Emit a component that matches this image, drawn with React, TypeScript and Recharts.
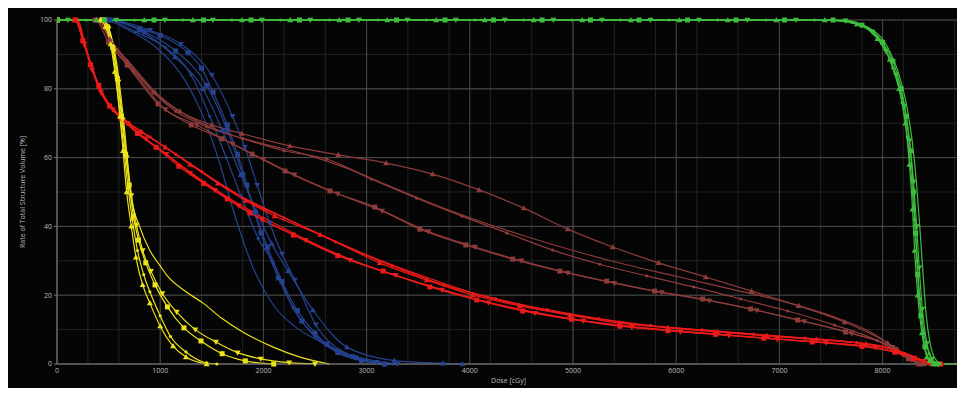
import React from "react";
import { LineChart, Line, XAxis, YAxis, CartesianGrid, Label } from "recharts";

type Pt = { x: number; y: number };
const pts = (a: number[][]): Pt[] => a.map(([x, y]) => ({ x, y }));

// axis ticks
const doseTicks = [0, 1000, 2000, 3000, 4000, 5000, 6000, 7000, 8000];
const volumeTicks = [0, 20, 40, 60, 80, 100];

// green (PTV)
const green1 = [[0,100],[460,100],[940,100],[1420,100],[1880,100],[2350,100],[2820,100],[3290,100],[3760,100],[4230,100],[4700,100],[5170,100],[5640,100],[6110,100],[6580,100],[7050,100],[7520,100],[7800,98.5],[8000,93.5],[8100,88],[8180,80],[8230,72],[8270,62],[8300,50],[8320,38],[8340,26],[8370,14],[8410,5],[8460,1],[8520,0],[8750,0]];
const green2 = [[0,100],[105,100],[575,100],[1046,100],[1511,100],[1985,100],[2455,100],[2925,100],[3395,100],[3865,100],[4340,100],[4810,100],[5280,100],[5750,100],[6220,100],[6690,100],[7160,100],[7640,99.8],[7900,96.5],[8030,91],[8130,84],[8210,75],[8260,65],[8300,53],[8330,40],[8355,28],[8385,16],[8430,6],[8480,1.5],[8540,0],[8750,0]];
const green3 = [[0,100],[380,100],[845,100],[1317,100],[1792,100],[2260,100],[2735,100],[3200,100],[3675,100],[4145,100],[4620,100],[5090,100],[5560,100],[6030,100],[6500,100],[6970,100],[7440,100],[7750,98.8],[7950,94.5],[8070,88.5],[8160,80],[8220,70],[8260,58],[8290,45],[8310,33],[8340,20],[8380,9],[8430,2],[8490,0],[8750,0]];
const green4 = [[0,100],[280,100],[750,100],[1220,100],[1695,100],[2165,100],[2640,100],[3110,100],[3580,100],[4050,100],[4520,100],[4990,100],[5460,100],[5930,100],[6400,100],[6870,100],[7340,100],[7700,99.3],[7980,94],[8100,86],[8190,76],[8240,66],[8280,54],[8310,42],[8335,30],[8360,19],[8400,9],[8450,3],[8500,0.5],[8560,0],[8750,0]];
const green5 = [[0,100],[7600,100],[7850,98],[8050,92],[8160,84],[8240,74],[8290,64],[8330,52],[8360,40],[8390,27],[8420,15],[8460,6],[8510,1.5],[8580,0],[8750,0]];

// yellow
const yellow1 = [[0,100],[420,100],[470,98],[520,93],[560,85],[610,72],[640,62],[675,50],[720,40],[765,31],[830,23],[900,17.7],[1000,11],[1125,5.2],[1250,2],[1450,0]];
const yellow2 = [[0,100],[430,100],[480,98],[530,92],[570,84],[610,73],[650,62],[690,51],[730,42],[780,33],[840,26],[900,21],[1000,14],[1100,8],[1250,3.5],[1450,0.3],[1550,0]];
const yellow3 = [[0,100],[440,100],[490,98],[540,92],[585,83],[625,72],[665,61],[700,52],[740,43],[790,36],[860,29.4],[950,23],[1070,16.6],[1230,10.5],[1395,6.7],[1600,3],[1825,0.9],[2100,0]];
const yellow4 = [[0,100],[450,100],[500,97.5],[550,91],[595,82],[635,71],[675,60],[720,49],[770,40.4],[830,33],[910,27],[1020,20.5],[1160,15.1],[1340,10],[1540,6.4],[1750,3.3],[1975,1.5],[2250,0.4],[2500,0]];
const yellow5 = [[0,100],[460,100],[520,96],[570,89],[615,79],[655,68],[690,57],[725,48],[800,40],[900,33],[1000,28.5],[1078,25.3],[1250,21],[1415,17.7],[1600,13.2],[1800,9.3],[2095,4.9],[2355,2],[2640,0]];

// red
const red1 = [[0,100],[170,100],[255,94],[330,87],[410,80.5],[520,75],[650,71],[820,67.5],[1050,63],[1290,58],[1560,52.5],[1830,47.5],[2110,43],[2550,37.6],[3128,29.4],[3583,24.4],[4030,20.1],[4484,16.9],[4969,14.2],[5453,11.9],[5920,10.5],[6400,9.3],[6880,8.2],[7360,7.1],[7840,5.8],[8150,3.8],[8320,1.8],[8450,0.4],[8560,0]];
const red2 = [[0,100],[190,100],[270,92.5],[350,85],[440,78.5],[560,73.5],[700,70],[900,66],[1150,61],[1400,56],[1650,51],[1900,46.5],[2200,42.5],[2700,35.5],[3250,28.5],[3750,23],[4250,19],[4750,15.8],[5250,13.2],[5750,11.2],[6250,9.9],[6750,8.7],[7250,7.5],[7750,6.2],[8100,4.2],[8300,2],[8480,0.3],[8580,0]];
const red3 = [[0,100],[200,100],[280,92],[360,84.5],[450,78],[580,73],[720,69.5],[950,65],[1200,60],[1500,54],[1800,48.5],[2100,44],[2600,37],[3100,30.5],[3600,25],[4100,20],[4600,16.5],[5100,13.8],[5600,11.6],[6100,10.2],[6600,9],[7100,7.8],[7600,6.6],[8000,5.2],[8250,2.8],[8450,0.5],[8550,0]];
const red4 = [[0,100],[175,100],[250,94],[325,87],[405,81],[510,75],[620,71.5],[780,67],[960,63],[1180,57.5],[1420,52.5],[1650,48],[1870,43.9],[2290,37.5],[2720,31.5],[3160,27],[3613,22.4],[4068,18.6],[4513,15.4],[4988,13],[5453,11],[5920,9.7],[6380,8.6],[6850,7.5],[7320,6.4],[7800,5.1],[8120,3.4],[8300,1.6],[8470,0.2],[8560,0]];
const red5 = [[0,100],[185,100],[265,93],[340,85.5],[425,79],[540,74],[680,70],[860,65.5],[1060,61],[1290,55.5],[1530,50.5],[1760,46],[1990,42],[2410,36],[2840,30.2],[3280,25.8],[3730,21.5],[4180,17.8],[4630,14.8],[5100,12.5],[5570,10.7],[6040,9.4],[6510,8.3],[6980,7.2],[7450,6.2],[7930,4.8],[8200,2.8],[8400,0.8],[8550,0]];
const red6 = [[0,100],[195,100],[275,92],[355,84.5],[440,78],[560,73.2],[700,69.5],[900,64.5],[1100,60],[1350,54.5],[1600,49.5],[1850,45],[2100,41],[2600,33.5],[3100,27.5],[3600,22.8],[4100,18.6],[4600,15.2],[5100,12.6],[5600,10.8],[6100,9.4],[6600,8.2],[7100,7],[7600,5.8],[8000,4.4],[8250,2.2],[8450,0.4],[8550,0]];

// blue
const blue1 = [[0,100],[480,100],[800,97.5],[1000,95.5],[1270,90.5],[1400,86],[1513,79],[1650,69.5],[1750,61],[1840,52],[1975,38.1],[2145,25],[2372,12.5],[2615,5.8],[2900,1.8],[3175,0]];
const blue2 = [[0,100],[500,100],[800,97],[1143,89.2],[1415,80],[1600,68],[1780,55],[1930,44.5],[2080,35],[2240,27],[2480,15.7],[2810,4.9],[3270,1],[3740,0.2],[3930,0]];
const blue3 = [[0,100],[520,100],[900,97],[1200,93],[1500,84],[1700,72],[1820,63],[1940,52],[2060,41],[2180,32],[2305,24.4],[2508,11.4],[2860,2.3],[3100,0.5],[3300,0]];
const blue4 = [[0,100],[490,100],[760,96.5],[1050,92],[1300,84],[1480,72],[1640,60],[1780,49],[1950,36.5],[2095,29.4],[2287,16.3],[2500,8],[2800,2.5],[3050,0.5],[3250,0]];
const blue5 = [[0,100],[450,100],[700,97],[1000,91],[1250,82],[1430,71],[1580,58],[1705,45],[1900,28],[2100,17],[2300,11],[2550,6.5],[2800,3],[3100,0.8],[3300,0]];
const blue6 = [[0,100],[510,100],[850,96.5],[1150,91],[1450,81],[1650,68],[1800,55],[1920,44],[2040,34],[2180,24],[2330,15.5],[2500,9],[2720,3.3],[2950,1],[3175,0]];

// brown
const brown1 = [[0,100],[380,100],[510,94.5],[680,88],[950,79],[1190,73.5],[1500,69.5],[1790,67],[2257,63.4],[2725,60.8],[3190,58.4],[3640,55.2],[4090,50.6],[4523,45.3],[4950,39.2],[5385,34],[5830,29.4],[6286,25.3],[6731,21.2],[7187,16.9],[7632,12.2],[8048,6.1],[8250,2],[8400,0]];
const brown2 = [[0,100],[390,100],[520,94],[700,87],[930,79],[1150,73.5],[1450,69],[1800,65.5],[2200,62],[2615,59.6],[3050,53.7],[3485,48.2],[3923,43],[4358,38.1],[4804,33.1],[5259,29],[5714,25.6],[6170,22.4],[6625,18.9],[7080,15.4],[7535,11.3],[7950,6.8],[8200,2.5],[8350,0]];
const brown3 = [[0,100],[370,100],[500,93.5],[680,86.9],[980,75.6],[1300,69.5],[1600,65.5],[1890,61],[2210,56.1],[2645,50.3],[3080,45.6],[3516,39.2],[3961,34.6],[4416,30.5],[4872,27],[5327,24.1],[5792,21.2],[6257,18.9],[6722,16],[7177,12.8],[7642,9.3],[8097,4.8],[8250,1.5],[8350,0]];
const brown4 = [[0,100],[400,100],[530,93],[740,85],[1050,74],[1355,69.5],[1700,64],[2000,59.5],[2300,55],[2720,49.5],[3150,44.5],[3600,38.5],[4050,34],[4500,30],[4950,26.5],[5400,23.5],[5860,20.8],[6320,18.4],[6780,15.6],[7240,12.4],[7700,8.9],[8130,4.3],[8280,1.2],[8380,0]];
const brown5 = [[0,100],[410,100],[550,93],[750,86],[1000,77.5],[1300,71.5],[1650,67],[2000,64],[2400,61],[2800,57],[3200,52],[3600,47],[4000,42.5],[4500,37.5],[5000,33],[5500,29],[6000,25.5],[6500,22],[7000,18.5],[7500,14],[7900,9],[8150,4],[8300,1],[8400,0]];

type Shape = "square" | "tri" | "itri" | "dot" | "none";

const makeDot = (shape: Shape, color: string) => (p: any) => {
  const { cx, cy, index } = p;
  const k = `m-${index}`;
  if (cx == null || cy == null || shape === "none") return <g key={k} />;
  if (shape === "square") return <rect key={k} x={cx - 2.5} y={cy - 2.5} width={5} height={5} fill={color} />;
  if (shape === "tri") return <polygon key={k} points={`${cx},${cy - 3} ${cx - 3},${cy + 2.2} ${cx + 3},${cy + 2.2}`} fill={color} />;
  if (shape === "itri") return <polygon key={k} points={`${cx},${cy + 3} ${cx - 3},${cy - 2.2} ${cx + 3},${cy - 2.2}`} fill={color} />;
  return <circle key={k} cx={cx} cy={cy} r={1.6} fill={color} />;
};

const BLUE = "#24428f";
const BROWN = "#8e3b3b";
const RED = "#ec1a1a";
const YELLOW = "#ece31a";
const GREEN = "#3fbd3f";

const series: { data: number[][]; color: string; shape: Shape }[] = [
  { data: blue1, color: BLUE, shape: "square" },
  { data: blue2, color: BLUE, shape: "tri" },
  { data: blue3, color: BLUE, shape: "itri" },
  { data: blue4, color: BLUE, shape: "dot" },
  { data: blue5, color: BLUE, shape: "none" },
  { data: blue6, color: BLUE, shape: "square" },
  { data: brown1, color: BROWN, shape: "tri" },
  { data: brown2, color: BROWN, shape: "dot" },
  { data: brown3, color: BROWN, shape: "square" },
  { data: brown4, color: BROWN, shape: "itri" },
  { data: brown5, color: BROWN, shape: "none" },
  { data: red1, color: RED, shape: "tri" },
  { data: red2, color: RED, shape: "dot" },
  { data: red3, color: RED, shape: "none" },
  { data: red4, color: RED, shape: "square" },
  { data: red5, color: RED, shape: "itri" },
  { data: red6, color: RED, shape: "none" },
  { data: yellow1, color: YELLOW, shape: "tri" },
  { data: yellow2, color: YELLOW, shape: "dot" },
  { data: yellow3, color: YELLOW, shape: "square" },
  { data: yellow4, color: YELLOW, shape: "itri" },
  { data: yellow5, color: YELLOW, shape: "none" },
  { data: green1, color: GREEN, shape: "square" },
  { data: green2, color: GREEN, shape: "itri" },
  { data: green3, color: GREEN, shape: "tri" },
  { data: green4, color: GREEN, shape: "dot" },
  { data: green5, color: GREEN, shape: "none" },
];

const minorX = Array.from({ length: 88 }, (_, i) => i * 100);
const minorY = Array.from({ length: 21 }, (_, i) => i * 5);

const FONT = "'Open Sans', sans-serif";
const tickStyle = { fill: "#bdbdbd", fontSize: 7, fontFamily: FONT };

export default function App() {
  return (
    <div style={{ marginLeft: -1, marginTop: -2, width: 958, height: 382, background: "#050505" }}>
      <LineChart width={958} height={382} margin={{ top: 14, right: 5, bottom: 0, left: 0 }}>
        <CartesianGrid stroke="#232323" strokeWidth={1} verticalValues={minorX} horizontalValues={minorY} />
        <CartesianGrid stroke="#4a4a4a" strokeWidth={1} verticalValues={doseTicks} horizontalValues={volumeTicks} />
        <XAxis
          type="number"
          dataKey="x"
          domain={[0, 8750]}
          ticks={doseTicks}
          allowDataOverflow
          height={24}
          stroke="#777"
          tickLine={false}
          tickSize={0}
          tickMargin={4}
          tick={tickStyle}
        >
          <Label
            content={(props: any) => {
              const vb = props.viewBox || { x: 50, y: 358, width: 903 };
              return (
                <text x={vb.x + vb.width / 2} y={vb.y + 19} textAnchor="middle" fill="#bdbdbd" fontSize={7} fontFamily={FONT}>
                  Dose [cGy]
                </text>
              );
            }}
          />
        </XAxis>
        <YAxis
          type="number"
          domain={[0, 100]}
          ticks={volumeTicks}
          width={50}
          stroke="#777"
          tickSize={3}
          tickMargin={2}
          tick={tickStyle}
        >
          <Label
            content={(props: any) => {
              const vb = props.viewBox || { x: 0, y: 14, height: 344 };
              const cy = vb.y + vb.height / 2;
              return (
                <text x={15} y={cy} transform={`rotate(-90, 15, ${cy})`} textAnchor="middle" dominantBaseline="central" fill="#bdbdbd" fontSize={7} fontFamily={FONT}>
                  Rate of Total Structure Volume [%]
                </text>
              );
            }}
          />
        </YAxis>
        {series.map((s, i) => (
          <Line
            key={i}
            data={pts(s.data)}
            dataKey="y"
            type="monotone"
            stroke={s.color}
            strokeWidth={1.2}
            dot={s.shape === "none" ? false : makeDot(s.shape, s.color)}
            activeDot={false}
            isAnimationActive={false}
          />
        ))}
      </LineChart>
    </div>
  );
}
